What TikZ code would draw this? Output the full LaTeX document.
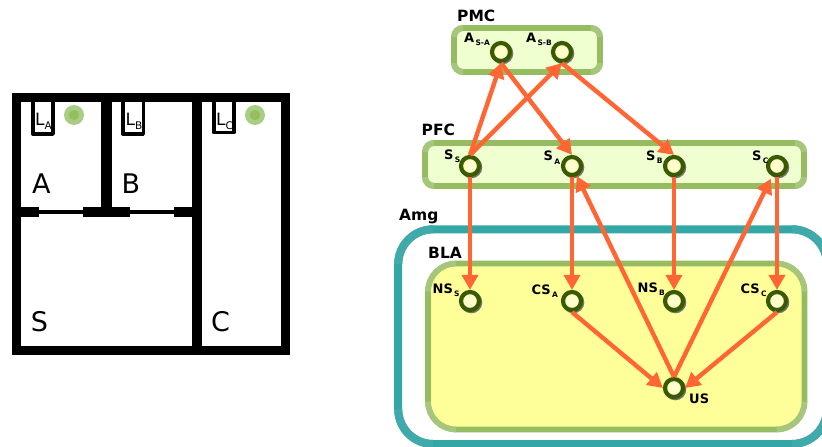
\documentclass[tikz,border=0pt]{standalone}
\usepackage{fontspec}
\setmainfont{DejaVu Sans}
\usetikzlibrary{arrows.meta}
\definecolor{ringc}{HTML}{3A5A00}
\definecolor{nodefillc}{HTML}{FFFFCC}
\definecolor{greenc}{HTML}{96BC62}
\definecolor{greenlightc}{HTML}{A6C67C}
\definecolor{tealc}{HTML}{33A6A6}
\definecolor{teallightc}{HTML}{40AAAA}
\definecolor{arrowc}{HTML}{FF6633}
\definecolor{palec}{HTML}{EFFFD0}
\definecolor{yellowc}{HTML}{FFFF99}
\definecolor{dotouter}{HTML}{A8CE84}
\definecolor{dotinner}{HTML}{96BE5E}
\tikzset{
  netnode/.style={circle,draw=ringc,line width=4.2pt,fill=nodefillc,minimum size=18pt,inner sep=0pt},
  link/.style={draw=arrowc,line width=4.4pt,-{Triangle[length=15pt,width=16pt]}},
  regionlabel/.style={anchor=base west,inner sep=0pt,font=\fontsize{15.5}{16}\selectfont\bfseries},
  unitlabel/.style={anchor=base west,inner sep=0pt,font=\fontsize{13}{14}\selectfont\bfseries},
  roomlabel/.style={anchor=base west,inner sep=0pt,font=\fontsize{27}{27}\selectfont},
  leverlabel/.style={anchor=base west,inner sep=0pt,font=\fontsize{17}{17}\selectfont},
  wall/.style={fill=black},
  lever/.style={draw=black,line width=3.6pt,line join=round},
}
\newcommand{\unitsub}[1]{\raisebox{-3.5pt}{\fontsize{7.5}{8}\selectfont\,#1}}
\newcommand{\leversub}[1]{\raisebox{-4pt}{\fontsize{10.5}{11}\selectfont #1}}
\newcommand{\netunit}[3]{%
  \fill[black!55] (#2+1.3,#3+1.3) circle (11);
  \node[netnode] (#1) at (#2,#3) {};}
% x0 y0 x1 y1 radius fill stroke lightstroke width
\newcommand{\region}[9]{%
  \draw[draw=#7,fill=#6,line width=#9pt,rounded corners=#5pt] (#1,#2) rectangle (#3,#4);
  \begin{scope}
    \clip (#1-5,#2-5) rectangle (#1+#5,#2+#5)
          (#3-#5,#2-5) rectangle (#3+5,#2+#5)
          (#1-5,#4-#5) rectangle (#1+#5,#4+5)
          (#3-#5,#4-#5) rectangle (#3+5,#4+5);
    \draw[draw=#8,line width=#9pt,rounded corners=#5pt] (#1,#2) rectangle (#3,#4);
  \end{scope}}
\begin{document}
\begin{tikzpicture}[x=1pt,y=-1pt]
\clip (0,0) rectangle (822,447);
\fill[white] (0,0) rectangle (822,447);
% Apparatus
\draw[line width=9pt,line join=miter] (16.8,97.5) -- (285.8,97.5) -- (285.8,350) -- (16.8,350) -- cycle;
\fill[wall] (192,97) rectangle (202.3,350);
\fill[wall] (100.7,97) rectangle (112.3,210);
\fill[wall] (17,206.7) rectangle (39,217);
\fill[wall] (83.3,206.7) rectangle (130,217);
\fill[wall] (174.3,206.7) rectangle (195,217);
\fill[wall] (39,210) rectangle (83.3,213.5);
\fill[wall] (130,210) rectangle (174.3,213.5);
\draw[lever] (32.8,100) -- (32.8,134) -- (53,134) -- (53,100);
\draw[lever] (122.8,100) -- (122.8,134) -- (143.3,134) -- (143.3,100);
\draw[lever] (213.8,100) -- (213.8,132.5) -- (234.2,132.5) -- (234.2,100);
\fill[dotouter] (74,115) circle (10);
\fill[dotinner] (74,115) circle (5.2);
\fill[dotouter] (255,115) circle (10);
\fill[dotinner] (255,115) circle (5.2);
\node[leverlabel] (la) at (35,125.7) {L\leversub{A}};
\node[leverlabel] (lb) at (125.5,125.7) {L\leversub{B}};
\node[leverlabel] (lc) at (216,125.7) {L\leversub{C}};
\node[roomlabel] (rooma) at (32,193) {A};
\node[roomlabel] (roomb) at (121.5,193) {B};
\node[roomlabel] (rooms) at (30.7,331) {S};
\node[roomlabel] (roomc) at (210.8,331) {C};
% Regions
\region{398.2}{229.3}{827}{444}{35}{white}{tealc}{teallightc}{8}
\region{428}{263.5}{804.5}{429.5}{28}{yellowc}{greenc}{greenlightc}{5.6}
\region{454}{28}{600}{72}{9}{palec}{greenc}{greenlightc}{5.8}
\region{425}{143}{804}{186}{9}{palec}{greenc}{greenlightc}{5.8}
\node[regionlabel] (pmc) at (457,21) {PMC};
\node[regionlabel] (pfc) at (421.5,135.8) {PFC};
\node[regionlabel] (amg) at (399,220) {Amg};
\node[regionlabel] (bla) at (428,258) {BLA};
% Units
\netunit{asa}{501}{52}
\netunit{asb}{562}{52}
\netunit{ss}{470}{166}
\netunit{sa}{572}{166}
\netunit{sb}{674}{166}
\netunit{sc}{777}{166}
\netunit{nss}{470}{301}
\netunit{csa}{572}{301}
\netunit{nsb}{674}{301}
\netunit{csc}{777}{301}
\netunit{us}{674}{388}
\node[unitlabel] (lasa) at (464,42) {A\unitsub{S-A}};
\node[unitlabel] (lasb) at (526,42) {A\unitsub{S-B}};
\node[unitlabel] (lss) at (444,159) {S\unitsub{S}};
\node[unitlabel] (lsa) at (543.5,160.5) {S\unitsub{A}};
\node[unitlabel] (lsb) at (646,160) {S\unitsub{B}};
\node[unitlabel] (lsc) at (752,160) {S\unitsub{C}};
\node[unitlabel] (lnss) at (432.5,293) {NS\unitsub{S}};
\node[unitlabel] (lcsa) at (531.5,294) {CS\unitsub{A}};
\node[unitlabel] (lnsb) at (637.5,292) {NS\unitsub{B}};
\node[unitlabel] (lcsc) at (740.5,293) {CS\unitsub{C}};
\node[unitlabel] (lus) at (689,403) {US};
% Connections
\draw[link] (ss.north) -- (asa.south);
\draw[link] (ss.north) -- (asb.south);
\draw[link] (asa.south) -- (sa.north);
\draw[link] (asb.south) -- (sb.north);
\draw[link] (ss) -- (nss);
\draw[link] (sa) -- (csa);
\draw[link] (sb) -- (nsb);
\draw[link] (sc) -- (csc);
\draw[link] (us.north) -- (sa);
\draw[link,shorten >=3pt] (us.north) -- (sc);
\draw[link] (csa.south) -- (us.west);
\draw[link] (csc.south) -- (us.east);
\end{tikzpicture}
\end{document}
